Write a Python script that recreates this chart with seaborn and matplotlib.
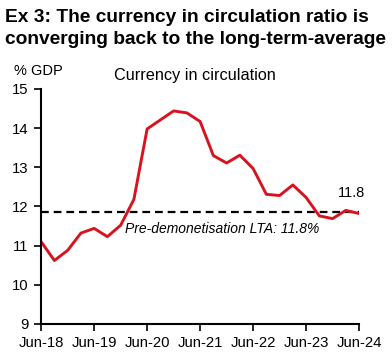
import numpy as np
import pandas as pd
import matplotlib
matplotlib.use('Agg')
import matplotlib.pyplot as plt
import seaborn as sns

# quarterly currency in circulation, % of GDP (Jun-18 .. Jun-24)
quarters = pd.period_range('2018Q2', '2024Q2', freq='Q')
cic = [11.10, 10.62, 10.88, 11.32, 11.44, 11.23, 11.52, 12.18,
       13.98, 14.21, 14.44, 14.39, 14.17, 13.30, 13.11, 13.31,
       12.97, 12.31, 12.28, 12.55, 12.23, 11.76, 11.69, 11.90, 11.82]
lta = 11.85
tick_labels = ['Jun-18', 'Jun-19', 'Jun-20', 'Jun-21', 'Jun-22', 'Jun-23', 'Jun-24']

df = pd.DataFrame({'q': np.arange(len(cic)), 'value': cic})

sns.set_style('white')
plt.rcParams['font.family'] = ['Liberation Sans', 'DejaVu Sans']
plt.rcParams['text.color'] = 'black'

fig = plt.figure(figsize=(3.92, 3.56), dpi=100)
ax = fig.add_axes([0.105, 0.09, 0.811, 0.66])

sns.lineplot(data=df, x='q', y='value', color='#D7141E', linewidth=2.1, ax=ax)
ax.axhline(lta, color='black', linestyle=(0, (3.5, 2.2)), linewidth=1.6, zorder=1)

ax.set_xlim(0, len(cic) - 1)
ax.set_ylim(9, 15)
ax.set_xticks(np.arange(0, len(cic), 4))
ax.set_xticklabels(tick_labels)
ax.set_yticks(range(9, 16))
ax.set_xlabel('')
ax.set_ylabel('')
ax.tick_params(axis='both', labelsize=10.7, colors='black', length=5, width=1.2,
               direction='out', bottom=True, left=True, pad=4)
for s in ['top', 'right']:
    ax.spines[s].set_visible(False)
for s in ['left', 'bottom']:
    ax.spines[s].set_color('black')
    ax.spines[s].set_linewidth(1.5)

ax.text(23.4, 12.35, '11.8', fontsize=10.5, ha='center', va='center')
ax.text(6.35, 11.43, 'Pre-demonetisation LTA: 11.8%', fontsize=10, style='italic',
        ha='left', va='center')

fig.text(0.012, 1 - 22 / 356, 'Ex 3: The currency in circulation ratio is',
         fontsize=13.8, fontweight='bold', ha='left', va='baseline')
fig.text(0.012, 1 - 44 / 356, 'converging back to the long-term-average',
         fontsize=13.8, fontweight='bold', ha='left', va='baseline')
fig.text(0.035, 0.80, '% GDP', fontsize=10.5, ha='left', va='center')
fig.text(0.29, 0.787, 'Currency in circulation', fontsize=11.7, ha='left', va='center')

fig.savefig('out.png', dpi=100)
